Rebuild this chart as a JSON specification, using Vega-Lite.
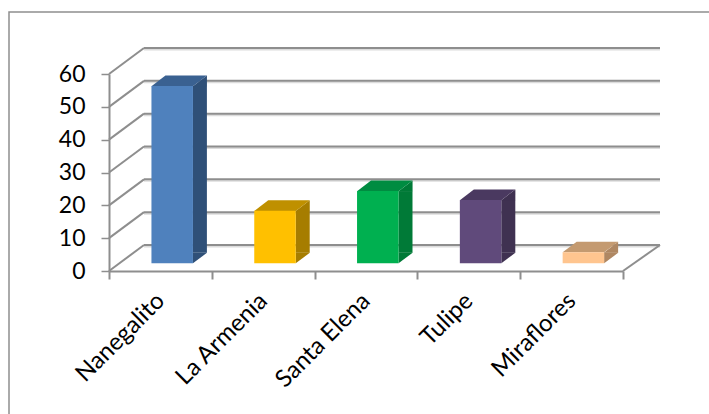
{
"$schema":"https://vega.github.io/schema/vega-lite/v6.json",
"width":702,"height":404,
"autosize":{"type":"none"},
"padding":{"left":9,"top":12,"right":0,"bottom":0},
"background":"white",
"view":{"stroke":"#8e8e8e","strokeWidth":1.5,"fill":"white"},
"datasets":{
"levels":[{"v":0},{"v":10},{"v":20},{"v":30},{"v":40},{"v":50},{"v":60}],
"floor":[{"v":0}],
"sites":[{"site":"Nanegalito","n":54},{"site":"La Armenia","n":16},{"site":"Santa Elena","n":22},{"site":"Tulipe","n":19.3},{"site":"Miraflores","n":3.4}]
},
"resolve":{"scale":{"x":"independent","color":"independent"},"axis":{"x":"independent"}},
"layer":[
{"data":{"name":"levels"},
 "mark":{"type":"rule","color":"#dcdcdc","strokeWidth":2,"xOffset":35,"x2Offset":37,"yOffset":-24.5},
 "encoding":{"x":{"datum":0,"type":"quantitative","scale":{"domain":[0,5],"range":[100,614]},"axis":null},"x2":{"datum":5},
  "y":{"field":"v","type":"quantitative","scale":{"domain":[0,60],"range":[259,62]},"axis":{"title":null,"values":[0,10,20,30,40,50,60],"offset":-100,"grid":false,"tickSize":8,"tickWidth":1.5,"tickColor":"#8e8e8e","domainColor":"#8e8e8e","domainWidth":2,"labelFont":"Lato","labelFontSize":23,"labelColor":"#000000","labelPadding":16}}}},
{"data":{"name":"levels"},
 "mark":{"type":"rule","color":"#8e8e8e","strokeWidth":2,"xOffset":35,"x2Offset":37,"yOffset":-26},
 "encoding":{"x":{"datum":0,"type":"quantitative","scale":{"domain":[0,5],"range":[100,614]},"axis":null},"x2":{"datum":5},
  "y":{"field":"v","type":"quantitative"}}},
{"data":{"name":"levels"},
 "mark":{"type":"rule","color":"#8e8e8e","strokeWidth":2,"x2Offset":35,"y2Offset":-26},
 "encoding":{"x":{"datum":0,"type":"quantitative","scale":{"domain":[0,5],"range":[100,614]},"axis":null},"x2":{"datum":0},
  "y":{"field":"v","type":"quantitative"},"y2":{"field":"v"}}},
{"data":{"name":"floor"},
 "mark":{"type":"rule","color":"#8e8e8e","strokeWidth":2,"x2Offset":37,"y2Offset":-26},
 "encoding":{"x":{"datum":5,"type":"quantitative","scale":{"domain":[0,5],"range":[100,614]},"axis":null},"x2":{"datum":5},
  "y":{"field":"v","type":"quantitative"},"y2":{"field":"v"}}},
{"data":{"name":"sites"},
 "mark":{"type":"bar","size":14,"xOffset":39.5,"yOffset":-7.7,"y2Offset":-18.2},
 "encoding":{"x":{"field":"site","type":"nominal","sort":null,"scale":{"range":[100,614],"paddingInner":0,"paddingOuter":0},
   "axis":{"title":null,"orient":"bottom","offset":-145,"tickBand":"extent","tickSize":8,"tickWidth":2,"tickColor":"#8e8e8e","domainColor":"#8e8e8e","domainWidth":2,"labelAngle":-45,"labelAlign":"right","labelBaseline":"middle","labelFont":"Lato","labelFontSize":24,"labelColor":"#000000","labelPadding":18}},
  "y":{"field":"n","type":"quantitative"},"y2":{"datum":0},
  "color":{"field":"site","type":"nominal","sort":null,"legend":null,"scale":{"range":["#2F5078","#A67D00","#007A37","#3F3151","#AF8762"]}}}},
{"data":{"name":"sites"},
 "mark":{"type":"point","filled":true,"opacity":1,"size":400,"strokeWidth":0,"xOffset":11.8,"yOffset":-7.7,"shape":"M2.075,0.03L3.475,-1.05L3.475,0.03Z"},
 "encoding":{"x":{"field":"site","type":"nominal","sort":null,"scale":{"range":[100,614],"paddingInner":0,"paddingOuter":0},"axis":null},
  "y":{"field":"n","type":"quantitative"},
  "color":{"field":"site","type":"nominal","sort":null,"legend":null,"scale":{"range":["#2F5078","#A67D00","#007A37","#3F3151","#AF8762"]}}}},
{"data":{"name":"sites"},
 "mark":{"type":"point","filled":true,"opacity":1,"size":400,"strokeWidth":0,"xOffset":11.8,"yOffset":-7.7,"shape":"M2.075,0L3.475,-1.05L2.075,-1.05Z"},
 "encoding":{"x":{"field":"site","type":"nominal","sort":null,"scale":{"range":[100,614],"paddingInner":0,"paddingOuter":0},"axis":null},
  "y":{"datum":0,"type":"quantitative"},
  "color":{"field":"site","type":"nominal","sort":null,"legend":null,"scale":{"range":["#2F5078","#A67D00","#007A37","#3F3151","#AF8762"]}}}},
{"data":{"name":"sites"},
 "mark":{"type":"point","filled":true,"opacity":1,"size":400,"strokeWidth":0,"xOffset":11.8,"yOffset":-7.7,"shape":"M-2.075,0.02L2.075,0.02L3.475,-1.05L-0.675,-1.05Z"},
 "encoding":{"x":{"field":"site","type":"nominal","sort":null,"scale":{"range":[100,614],"paddingInner":0,"paddingOuter":0},"axis":null},
  "y":{"field":"n","type":"quantitative"},
  "color":{"field":"site","type":"nominal","sort":null,"legend":null,"scale":{"range":["#3A6191","#BF9000","#008C41","#4A3960","#C49A70"]}}}},
{"data":{"name":"sites"},
 "mark":{"type":"bar","size":41.5,"xOffset":11.8,"yOffset":-7.7,"y2Offset":-7.7},
 "encoding":{"x":{"field":"site","type":"nominal","sort":null,"scale":{"range":[100,614],"paddingInner":0,"paddingOuter":0},"axis":null},
  "y":{"field":"n","type":"quantitative"},"y2":{"datum":0},
  "color":{"field":"site","type":"nominal","sort":null,"legend":null,"scale":{"range":["#4F81BD","#FFC000","#00B050","#604A7B","#FFC58F"]}}}}
]
}
